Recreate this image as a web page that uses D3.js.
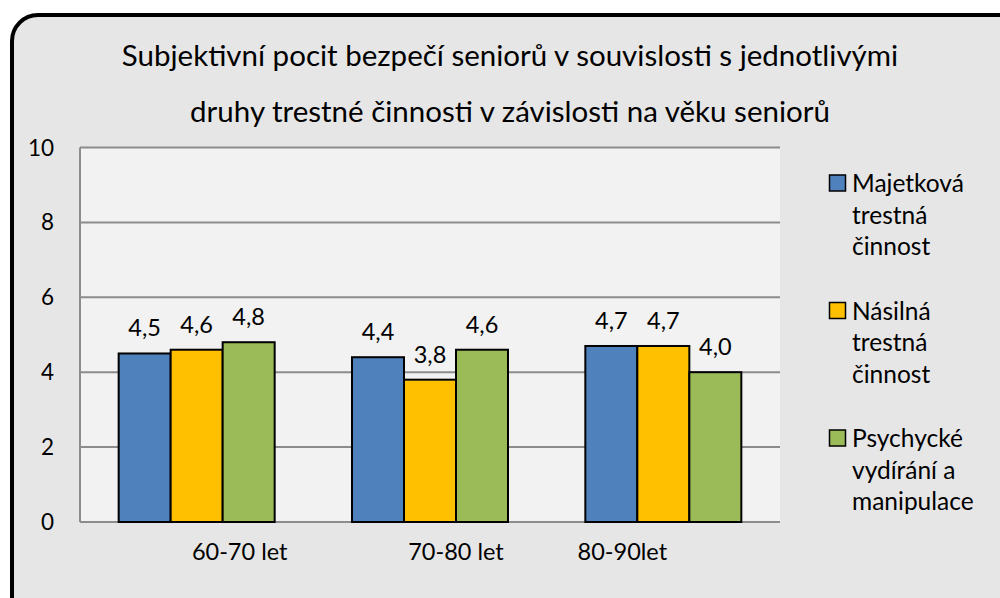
<!DOCTYPE html>
<html>
<head>
<meta charset="utf-8">
<script src="https://cdn.jsdelivr.net/npm/d3@7"></script>
<style>
  body { margin: 0; background: #ffffff; }
  text { font-family: Lato, "Open Sans", sans-serif; fill: #000; }
</style>
</head>
<body>
<script>
// chart data
const ageGroups = ['60-70 let', '70-80 let', '80-90let']
const seriesNames = ['Majetková trestná činnost', 'Násilná trestná činnost', 'Psychycké vydírání a manipulace']
const majetkova = [4.5, 4.4, 4.7]
const nasilna = [4.6, 3.8, 4.7]
const psychicke = [4.8, 4.6, 4.0]
const yTicks = [0, 2, 4, 6, 8, 10]
const legendLines = [['Majetková', 'trestná', 'činnost'], ['Násilná', 'trestná', 'činnost'], ['Psychycké', 'vydírání a', 'manipulace']]
const titleLines = ['Subjektivní pocit bezpečí seniorů v souvislosti s jednotlivými', 'druhy trestné činnosti v závislosti na věku seniorů']

const colors = ['#4f81bd', '#ffc000', '#9bbb59']
const allSeries = [majetkova, nasilna, psychicke]

const width = 1000
const height = 598
const plot = { left: 80, right: 780, top: 147.5, bottom: 522 }
// excel put the category labels off-centre, shift them to match
const labelShift = [43, 26, -41]

const svg = d3.select('body')
  .append('svg')
  .attr('width', width)
  .attr('height', height)

// outer rounded frame
svg.append('rect')
  .attr('x', 12)
  .attr('y', 15)
  .attr('width', 1020)
  .attr('height', 620)
  .attr('rx', 26)
  .style('fill', '#e6e6e6')
  .style('stroke', '#000')
  .style('stroke-width', 4)

// title
svg.append('g')
  .selectAll('text')
  .data(titleLines)
  .enter()
  .append('text')
  .attr('x', 510)
  .attr('y', (d, i) => 66 + i * 56)
  .attr('text-anchor', 'middle')
  .style('font-size', '29.5px')
  .text(d => d)

// scales
const xScale = d3.scaleBand()
  .domain(ageGroups)
  .range([plot.left, plot.right])

const barWidth = 52
const xInner = d3.scaleBand()
  .domain(d3.range(allSeries.length))
  .range([0, barWidth * allSeries.length])

const yScale = d3.scaleLinear()
  .domain([0, 10])
  .range([plot.bottom, plot.top])

// plot area background
svg.append('rect')
  .attr('x', plot.left)
  .attr('y', plot.top)
  .attr('width', plot.right - plot.left)
  .attr('height', plot.bottom - plot.top)
  .style('fill', '#f2f2f2')

// gridlines
svg.append('g')
  .selectAll('line')
  .data(yTicks)
  .enter()
  .append('line')
  .attr('x1', plot.left)
  .attr('x2', plot.right)
  .attr('y1', d => yScale(d))
  .attr('y2', d => yScale(d))
  .style('stroke', '#8c8c8c')
  .style('stroke-width', 2)

svg.append('line')
  .attr('x1', plot.left)
  .attr('x2', plot.left)
  .attr('y1', plot.top)
  .attr('y2', plot.bottom)
  .style('stroke', '#8c8c8c')
  .style('stroke-width', 2)

// y tick labels
svg.append('g')
  .selectAll('text')
  .data(yTicks)
  .enter()
  .append('text')
  .attr('x', 54)
  .attr('y', d => yScale(d) + 8)
  .attr('text-anchor', 'end')
  .style('font-size', '22.5px')
  .text(d => d)

// bars
const groups = svg.selectAll('g.group')
  .data(ageGroups)
  .enter()
  .append('g')
  .attr('class', 'group')
  .attr('transform', d => `translate(${xScale(d) + (xScale.bandwidth() - barWidth * allSeries.length) / 2},0)`)

groups.each(function(g, gi) {
  const sel = d3.select(this)
  allSeries.forEach((s, si) => {
    sel.append('rect')
      .attr('x', xInner(si))
      .attr('y', yScale(s[gi]))
      .attr('width', xInner.bandwidth())
      .attr('height', yScale(0) - yScale(s[gi]))
      .style('fill', colors[si])
      .style('stroke', '#000')
      .style('stroke-width', 2)

    sel.append('text')
      .attr('x', xInner(si) + xInner.bandwidth() / 2)
      .attr('y', yScale(s[gi]) - 17)
      .attr('text-anchor', 'middle')
      .style('font-size', '23.5px')
      .text(d3.format('.1f')(s[gi]).replace('.', ','))
  })
})

// category labels
svg.append('g')
  .selectAll('text')
  .data(ageGroups)
  .enter()
  .append('text')
  .attr('x', (d, i) => xScale(d) + xScale.bandwidth() / 2 + labelShift[i])
  .attr('y', 560)
  .attr('text-anchor', 'middle')
  .style('font-size', '23.5px')
  .text(d => d)

// legend
const legend = svg.selectAll('g.legend')
  .data(seriesNames)
  .enter()
  .append('g')
  .attr('class', 'legend')
  .attr('transform', (d, i) => `translate(829.5,${175 + i * 127.5})`)

legend.append('rect')
  .attr('width', 16)
  .attr('height', 16)
  .style('fill', (d, i) => colors[i])
  .style('stroke', '#000')
  .style('stroke-width', 1.5)

legend.each(function(d, i) {
  d3.select(this)
    .selectAll('text')
    .data(legendLines[i])
    .enter()
    .append('text')
    .attr('x', 22.5)
    .attr('y', (t, j) => 17 + j * 31.5)
    .style('font-size', '24.5px')
    .text(t => t)
})
</script>
</body>
</html>
